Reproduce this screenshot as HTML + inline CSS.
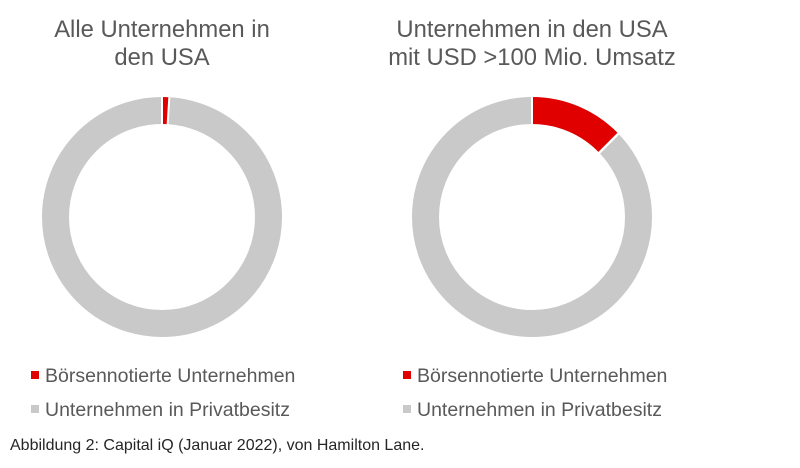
<!DOCTYPE html>
<html><head><style>
body{margin:0;width:800px;height:468px;background:#fff;font-family:"Liberation Sans",sans-serif;position:relative;overflow:hidden}
.t{position:absolute;color:#595959;font-size:23.8px;text-align:center;line-height:28px;width:400px}
.l{position:absolute;color:#595959;font-size:19.5px;white-space:nowrap}
.sq{display:inline-block;width:8px;height:8px;margin-right:6px;vertical-align:middle;position:relative;top:-2px}
</style></head><body>
<div class="t" style="left:-38px;top:16px">Alle Unternehmen in<br>den USA</div>
<div class="t" style="left:332px;top:16px">Unternehmen in den USA<br>mit USD &gt;100 Mio. Umsatz</div>
<svg width="800" height="468" style="position:absolute;left:0;top:0">
<g transform="translate(162,217)">
<circle r="106.5" fill="none" stroke="#c9c9c9" stroke-width="27"/>
<circle r="106.5" fill="none" stroke="#e00000" stroke-width="27" stroke-dasharray="6 1000" transform="rotate(-90)"/>
<line x1="0" y1="-92" x2="0" y2="-121" stroke="#fff" stroke-width="2"/>
<line x1="5.6" y1="-92" x2="7.4" y2="-121" stroke="#fff" stroke-width="2"/>
</g>
<g transform="translate(532,217)">
<circle r="106.5" fill="none" stroke="#c9c9c9" stroke-width="27"/>
<circle r="106.5" fill="none" stroke="#e00000" stroke-width="27" stroke-dasharray="86 1000" transform="rotate(-90)"/>
<line x1="0" y1="-92" x2="0" y2="-121" stroke="#fff" stroke-width="2"/>
<line x1="66" y1="-63" x2="87" y2="-84" stroke="#fff" stroke-width="2.5"/>
</g>
</svg>
<div class="l" style="left:31px;top:365px"><span class="sq" style="background:#e00000"></span>Börsennotierte Unternehmen</div>
<div class="l" style="left:31px;top:399px"><span class="sq" style="background:#c9c9c9"></span>Unternehmen in Privatbesitz</div>
<div class="l" style="left:403px;top:365px"><span class="sq" style="background:#e00000"></span>Börsennotierte Unternehmen</div>
<div class="l" style="left:403px;top:399px"><span class="sq" style="background:#c9c9c9"></span>Unternehmen in Privatbesitz</div>
<div class="l" style="left:10px;top:437px;font-size:16px;color:#262626">Abbildung 2: Capital iQ (Januar 2022), von Hamilton Lane.</div>
</body></html>
